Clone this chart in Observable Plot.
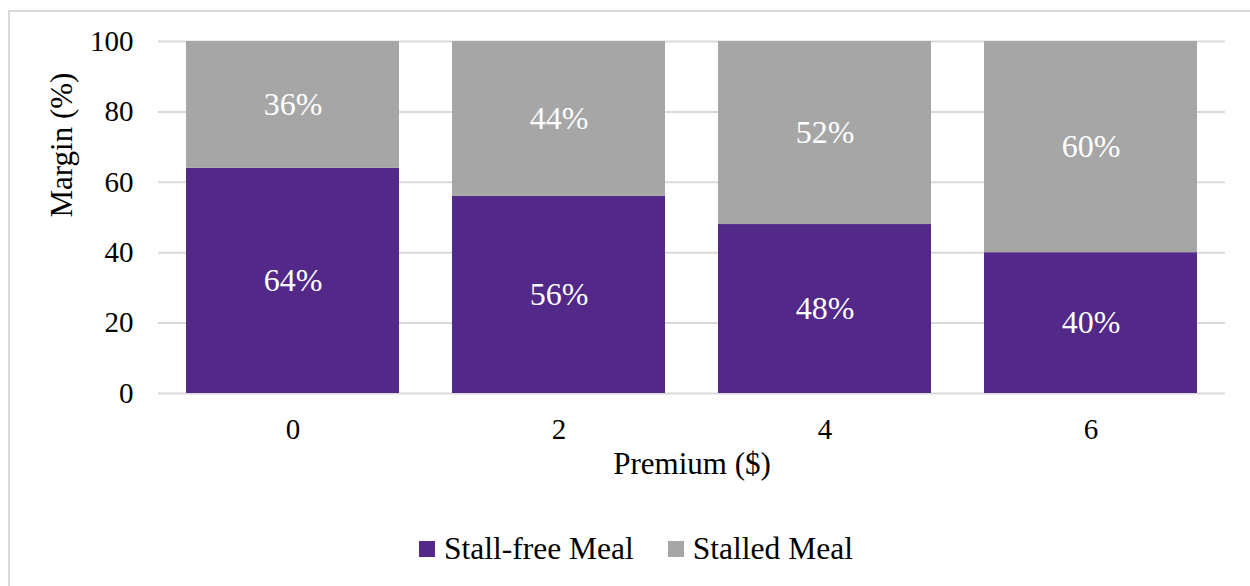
<!DOCTYPE html>
<html>
<head>
<meta charset="utf-8">
<script src="https://cdn.jsdelivr.net/npm/d3@7"></script>
<script src="https://cdn.jsdelivr.net/npm/@observablehq/plot@0.6"></script>
<style>
  html, body { margin: 0; padding: 0; background: #fff; overflow: hidden; width: 1250px; height: 586px; }
  #frame { position: absolute; left: 8px; top: 10px; width: 1400px; height: 700px; border-left: 2px solid #D9D9D9; border-top: 2px solid #D9D9D9; }
  #chart { position: absolute; left: 0; top: 0; }
  #legend { position: absolute; left: 419px; top: 531px; display: flex; align-items: center; font-size: 31.5px; color: #000; font-family: 'Liberation Serif', serif; white-space: nowrap; }
  .item { display: flex; align-items: center; margin-right: 34px; }
  .sw { width: 16px; height: 16px; margin-right: 9px; }
</style>
</head>
<body>
<div id="frame"></div>
<div id="chart"></div>
<div id="legend"></div>
<script>
const premiums = ["0", "2", "4", "6"];
const stallFree = [64, 56, 48, 40];
const stalled = [36, 44, 52, 60];
const seriesNames = ["Stall-free Meal", "Stalled Meal"];
const seriesColors = ["#522888", "#A6A6A6"];
const yTicks = [0, 20, 40, 60, 80, 100];

const data = [];
premiums.forEach((p, i) => {
  data.push({premium: p, series: seriesNames[0], value: stallFree[i]});
  data.push({premium: p, series: seriesNames[1], value: stalled[i]});
});

const serif = "Liberation Serif";

const chart = Plot.plot({
  width: 1250,
  height: 500,
  marginLeft: 158,
  marginRight: 25,
  marginTop: 41,
  marginBottom: 107,
  style: {fontFamily: serif, fontSize: "29px", color: "#000", background: "transparent", overflow: "visible"},
  x: {domain: premiums, paddingInner: 0.2, paddingOuter: 0.1, label: null},
  y: {domain: [0, 100], ticks: yTicks, label: null},
  color: {domain: seriesNames, range: seriesColors},
  marks: [
    Plot.gridY(yTicks, {stroke: "#D9D9D9", strokeOpacity: 1, strokeWidth: 2}),
    Plot.barY(data, Plot.stackY({x: "premium", y: "value", fill: "series", order: seriesNames})),
    Plot.text(data, Plot.stackY({x: "premium", y: "value", z: "series", order: seriesNames, text: d => d.value + "%", fill: "#fff", fontSize: 32, fontFamily: serif})),
    Plot.axisY(yTicks, {tickSize: 0, tickPadding: 25, fontSize: 29, fontFamily: serif, label: null}),
    Plot.axisX({tickSize: 0, tickPadding: 25, fontSize: 29, fontFamily: serif, label: null}),
    Plot.text(["Margin (%)"], {frameAnchor: "left", dx: -96, rotate: -90, fontSize: 31, fontFamily: serif}),
    Plot.text(["Premium ($)"], {frameAnchor: "bottom", dy: 80, fontSize: 31, fontFamily: serif})
  ]
});
document.getElementById("chart").appendChild(chart);

const legend = document.getElementById("legend");
seriesNames.forEach((name, i) => {
  const item = document.createElement("div");
  item.className = "item";
  const sw = document.createElement("div");
  sw.className = "sw";
  sw.style.background = seriesColors[i];
  const label = document.createElement("span");
  label.textContent = name;
  item.appendChild(sw);
  item.appendChild(label);
  legend.appendChild(item);
});
</script>
</body>
</html>
